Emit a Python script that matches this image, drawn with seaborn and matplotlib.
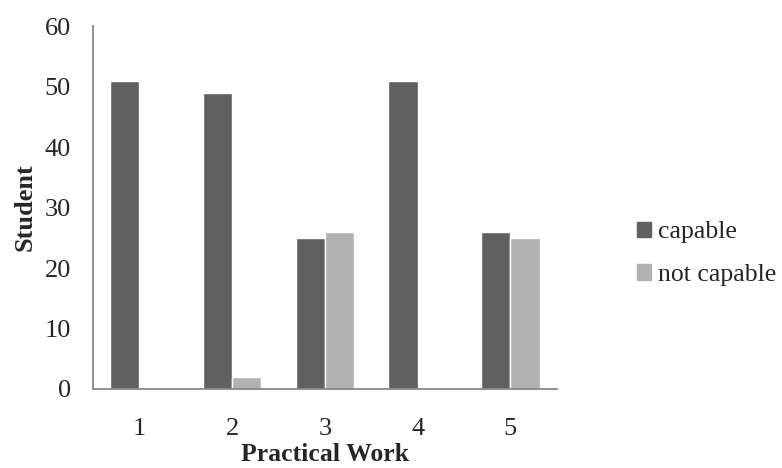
import pandas as pd
import matplotlib.pyplot as plt
import seaborn as sns

# data
practical_work = ["1", "2", "3", "4", "5"]
capable = [51, 49, 25, 51, 26]
not_capable = [0, 2, 26, 0, 25]

df = pd.DataFrame({
    "Practical Work": practical_work * 2,
    "Student": capable + not_capable,
    "group": ["capable"] * 5 + ["not capable"] * 5,
})

sns.set_theme(style="white")
plt.rcParams["font.family"] = ["Liberation Serif", "DejaVu Serif"]

fig = plt.figure(figsize=(7.82, 4.68), dpi=100)
ax = fig.add_axes([0.119, 0.169, 0.593, 0.775])

sns.barplot(data=df, x="Practical Work", y="Student", hue="group",
            palette=["#606060", "#b2b2b2"], saturation=1, width=0.63,
            ax=ax, legend=False)

ax.set_ylim(0, 60)
ax.set_yticks(range(0, 61, 10))
ax.set_xlim(-0.5, 4.5)
ax.tick_params(axis="y", length=7, color="#888888", labelsize=19, pad=9)
ax.tick_params(axis="x", length=0, labelsize=19, pad=21)
for s in ["top", "right"]:
    ax.spines[s].set_visible(False)
for s in ["left", "bottom"]:
    ax.spines[s].set_color("#888888")
    ax.spines[s].set_linewidth(1.3)

ax.set_xlabel("Practical Work", fontsize=18.5, fontweight="bold", va="center")
ax.xaxis.set_label_coords(0.5, -0.182)
ax.set_ylabel("Student", fontsize=19, fontweight="bold", labelpad=6)

handles = [plt.Rectangle((0, 0), 1, 1, color="#606060"),
           plt.Rectangle((0, 0), 1, 1, color="#b2b2b2")]
fig.legend(handles, ["capable", "not capable"], loc="center left",
           bbox_to_anchor=(0.815, 0.458), frameon=False, fontsize=18.5,
           handlelength=0.55, handleheight=0.55, handletextpad=0.25,
           labelspacing=0.8, borderpad=0, borderaxespad=0)

fig.savefig("out.png", dpi=100)
